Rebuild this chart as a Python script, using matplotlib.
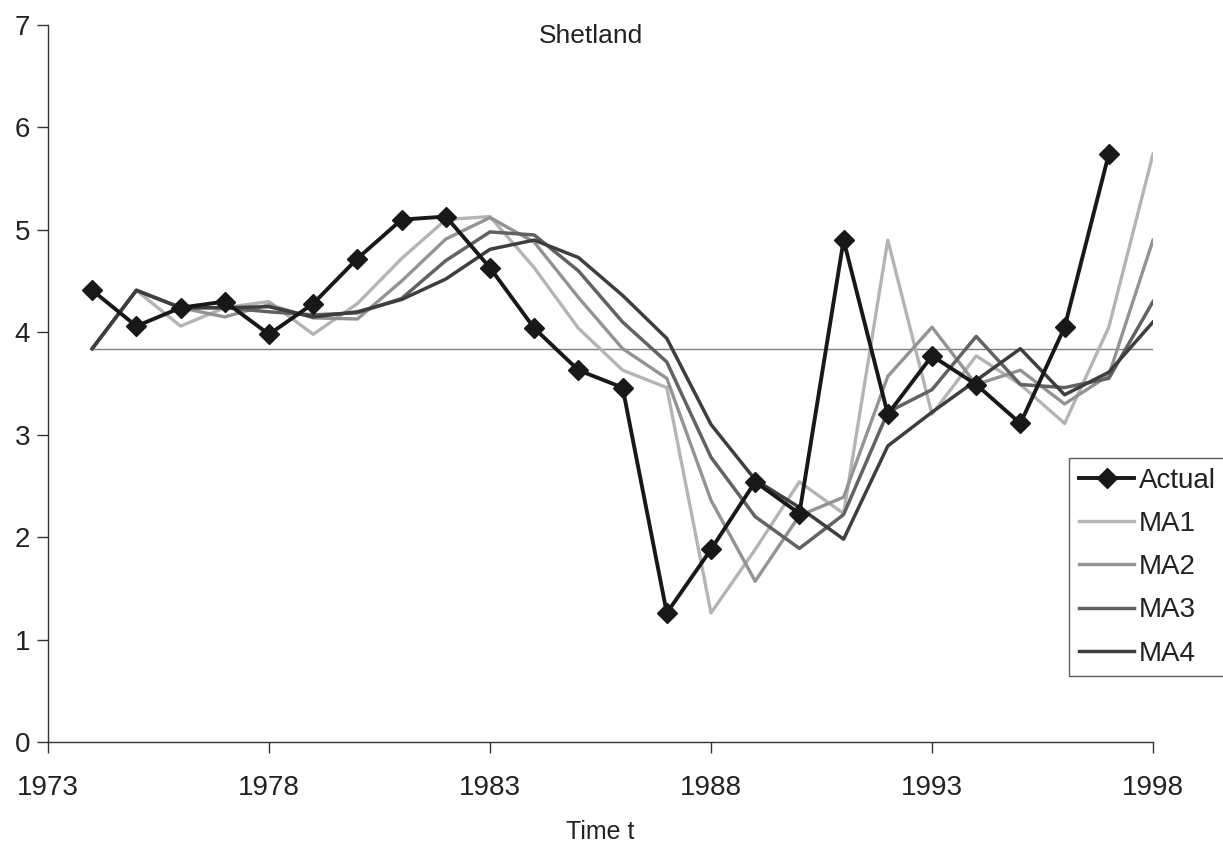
import numpy as np
import matplotlib
matplotlib.use("Agg")
import matplotlib.pyplot as plt

plt.rcParams['font.family'] = ['Liberation Sans', 'DejaVu Sans']

# data
years = list(range(1974, 1999))
actual_years = list(range(1974, 1998))
actual = [4.41, 4.06, 4.24, 4.30, 3.98, 4.28, 4.72, 5.10, 5.13, 4.63, 4.04, 3.63,
          3.46, 1.26, 1.88, 2.54, 2.23, 4.90, 3.20, 3.77, 3.49, 3.11, 4.05, 5.74]
ma1 = [3.84, 4.41, 4.06, 4.24, 4.30, 3.98, 4.28, 4.72, 5.10, 5.13, 4.63, 4.04, 3.63,
       3.46, 1.26, 1.88, 2.54, 2.23, 4.90, 3.20, 3.77, 3.49, 3.11, 4.05, 5.74]
ma2 = [3.84, 4.41, 4.24, 4.15, 4.27, 4.14, 4.13, 4.50, 4.91, 5.12, 4.88, 4.34, 3.84,
       3.55, 2.36, 1.57, 2.21, 2.39, 3.57, 4.05, 3.49, 3.63, 3.30, 3.58, 4.90]
ma3 = [3.84, 4.41, 4.24, 4.24, 4.20, 4.17, 4.19, 4.33, 4.70, 4.98, 4.95, 4.60, 4.10,
       3.71, 2.78, 2.20, 1.89, 2.22, 3.22, 3.44, 3.96, 3.49, 3.46, 3.55, 4.30]
ma4 = [3.84, 4.41, 4.24, 4.24, 4.25, 4.15, 4.20, 4.32, 4.52, 4.81, 4.90, 4.73, 4.36,
       3.94, 3.10, 2.56, 2.29, 1.98, 2.89, 3.22, 3.53, 3.84, 3.39, 3.61, 4.10]
mean_level = 3.84

fig = plt.figure(figsize=(12.23, 8.5), dpi=100)
ax = fig.add_axes([48 / 1223, 1 - 742 / 850, (1153 - 48) / 1223, (742 - 25) / 850])

ax.plot(years, [mean_level] * len(years), color='#808080', linewidth=1.0)
ax.plot(years, ma1, color='#b4b4b4', linewidth=2.4, label='MA1')
ax.plot(years, ma2, color='#939393', linewidth=2.4, label='MA2')
ax.plot(years, ma3, color='#626262', linewidth=2.5, label='MA3')
ax.plot(years, ma4, color='#3e3e3e', linewidth=2.5, label='MA4')
ax.plot(actual_years, actual, color='#181818', linewidth=2.8, marker='D',
        markersize=10, label='Actual')

ax.set_xlim(1973, 1998)
ax.set_ylim(0, 7)
ax.set_xticks(np.arange(1973, 1999, 5))
ax.set_yticks(np.arange(0, 8, 1))
ax.spines['top'].set_visible(False)
ax.spines['right'].set_visible(False)
for s in ['left', 'bottom']:
    ax.spines[s].set_linewidth(1.0)
    ax.spines[s].set_color('#333333')
ax.tick_params(axis='both', direction='out', length=8, width=1, color='#333333',
               labelsize=20, labelcolor='#222222')
ax.tick_params(axis='y', pad=5)
ax.tick_params(axis='x', pad=16)

fig.text(591 / 1223, 1 - 36 / 850, 'Shetland', fontsize=19, color='#222222',
         ha='center', va='center')
fig.text(600 / 1223, 1 - 832 / 850, 'Time t', fontsize=18, color='#222222',
         ha='center', va='center')

handles, labels = ax.get_legend_handles_labels()
order = [4, 0, 1, 2, 3]
leg = fig.legend([handles[i] for i in order], [labels[i] for i in order],
                 loc='upper left', bbox_to_anchor=(1069 / 1223, 1 - 458 / 850),
                 fontsize=20, frameon=True, fancybox=False, handlelength=2.0,
                 handletextpad=0.15, labelspacing=0.62, borderpad=0.35,
                 borderaxespad=0)
leg.get_frame().set_edgecolor('#333333')
leg.get_frame().set_linewidth(1.0)
for t in leg.get_texts():
    t.set_color('#222222')

fig.savefig('out.png', dpi=100)
